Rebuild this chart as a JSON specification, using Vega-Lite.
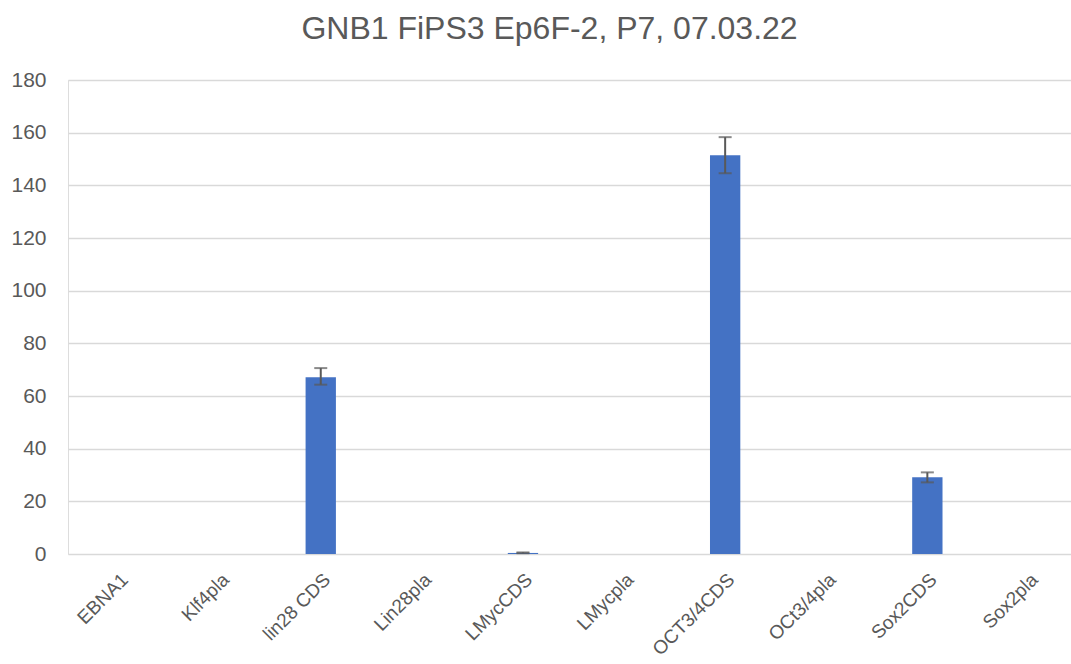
{
  "$schema": "https://vega.github.io/schema/vega-lite/v6.json",
  "autosize": "none",
  "padding": {"left": 68, "top": 80, "right": 0, "bottom": 110},
  "width": 1011,
  "height": 474,
  "background": "white",
  "title": {
    "text": "GNB1 FiPS3 Ep6F-2, P7, 07.03.22",
    "font": "Liberation Sans",
    "fontSize": 32,
    "fontWeight": "normal",
    "color": "#595959",
    "anchor": "middle",
    "frame": "group",
    "dx": -24,
    "baseline": "alphabetic",
    "offset": -2
  },
  "data": {
    "values": [
      {"gene": "EBNA1", "value": 0, "lo": null, "hi": null},
      {"gene": "Klf4pla", "value": 0, "lo": null, "hi": null},
      {"gene": "lin28 CDS", "value": 67.1, "lo": 64.3, "hi": 70.6},
      {"gene": "Lin28pla", "value": 0, "lo": null, "hi": null},
      {"gene": "LMycCDS", "value": 0.4, "lo": 0.3, "hi": 0.6},
      {"gene": "LMycpla", "value": 0, "lo": null, "hi": null},
      {"gene": "OCT3/4CDS", "value": 151.4, "lo": 144.6, "hi": 158.3},
      {"gene": "OCt3/4pla", "value": 0, "lo": null, "hi": null},
      {"gene": "Sox2CDS", "value": 29.1, "lo": 27.2, "hi": 31.0},
      {"gene": "Sox2pla", "value": 0, "lo": null, "hi": null}
    ]
  },
  "encoding": {
    "x": {
      "field": "gene",
      "type": "nominal",
      "sort": null,
      "scale": {"paddingInner": 0.7, "paddingOuter": 0.35},
      "axis": {
        "title": null,
        "domain": false,
        "ticks": false,
        "labelAngle": -45,
        "labelFont": "Liberation Sans",
        "labelFontSize": 19,
        "labelColor": "#595959",
        "labelPadding": 16
      }
    }
  },
  "layer": [
    {
      "mark": {"type": "bar", "color": "#4472C4"},
      "encoding": {
        "y": {
          "field": "value",
          "type": "quantitative",
          "scale": {"domain": [0, 180], "nice": false},
          "axis": {
            "title": null,
            "values": [0, 20, 40, 60, 80, 100, 120, 140, 160, 180],
            "domain": false,
            "ticks": false,
            "grid": true,
            "gridColor": "#d9d9d9",
            "gridWidth": 1.5,
            "labelFont": "Liberation Sans",
            "labelFontSize": 21,
            "labelColor": "#595959",
            "labelPadding": 22
          }
        }
      }
    },
    {
      "mark": {"type": "rule", "color": "#595959", "strokeWidth": 2},
      "encoding": {
        "y": {"field": "lo", "type": "quantitative"},
        "y2": {"field": "hi"}
      }
    },
    {
      "mark": {"type": "tick", "color": "#595959", "thickness": 2, "size": 13},
      "encoding": {
        "y": {"field": "lo", "type": "quantitative"}
      }
    },
    {
      "mark": {"type": "tick", "color": "#595959", "thickness": 2, "size": 13},
      "encoding": {
        "y": {"field": "hi", "type": "quantitative"}
      }
    }
  ]
}
